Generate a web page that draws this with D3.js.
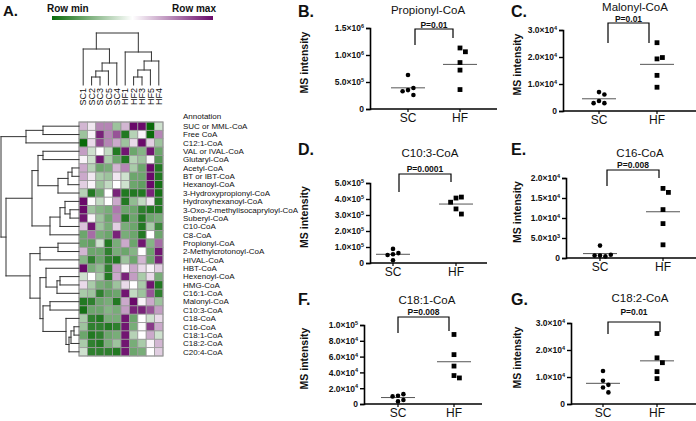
<!DOCTYPE html>
<html><head><meta charset="utf-8">
<script src="https://cdn.jsdelivr.net/npm/d3@7"></script>
<style>
body{margin:0;background:#fff}
svg{display:block}
text{font-family:Arial,"Liberation Sans",Helvetica,sans-serif;fill:#111}
</style>
</head><body>
<svg id="chart" width="696" height="421"></svg>
<script>
// ---------------- DATA ----------------
const colLabels = ["SC1","SC2","SC3","SC5","SC4","HF1","HF2","HF3","HF5","HF4"];
const rowLabels = ["SUC or MML-CoA","Free CoA","C12:1-CoA","VAL or IVAL-CoA","Glutaryl-CoA","Acetyl-CoA","BT or IBT-CoA","Hexanoyl-CoA","3-Hydroxypropionyl-CoA","Hydroxyhexanoyl-CoA","3-Oxo-2-methylisocapryloyl-CoA","Suberyl-CoA","C10-CoA","C8-CoA","Propionyl-CoA","2-Methylcrotonoyl-CoA","HIVAL-CoA","HBT-CoA","Hexenoyl-CoA","HMG-CoA","C16:1-CoA","Malonyl-CoA","C10:3-CoA","C18-CoA","C16-CoA","C18:1-CoA","C18:2-CoA","C20:4-CoA"];
const heatValues = [
 [0.3,0.1,0.5,0.5,-0.4,0.3,1,1,-1,-0.2],
 [-0.4,0.05,0.9,0.5,0.7,-0.9,-0.3,0.05,-1,0.5],
 [-1,0.15,0.75,0.5,0.35,-0.4,0.15,1,0.2,-0.4],
 [0.4,-0.2,0,-0.25,-0.9,0.95,-0.6,-0.5,0.95,-0.6],
 [0.05,-0.2,0.95,-0.35,-0.6,-0.9,-0.3,-0.4,0.05,-0.7],
 [0.35,-0.3,-0.6,-0.55,0.3,0.5,-0.35,-0.6,1,-0.9],
 [0.35,0.1,-0.35,-0.4,0.1,-0.2,-0.6,-0.6,1,-0.9],
 [0.2,0.05,-0.4,-0.25,0,-0.2,-0.6,-0.65,1,-0.95],
 [-0.3,-0.9,-0.6,0,0.9,-0.9,-0.9,-0.9,0.9,-0.95],
 [1,0.02,-0.25,0,0.35,-0.9,-0.45,-0.25,0.1,-0.9],
 [1,-0.4,-0.5,-0.55,0.55,-0.6,-0.6,-0.85,-0.9,-0.9],
 [0.95,0.05,-0.4,-0.6,0.5,-0.9,-0.6,-0.9,-0.6,-0.55],
 [0.25,0.95,-0.4,-0.55,0.2,-0.55,-0.6,-0.9,-0.35,-0.8],
 [-0.6,0.6,-0.55,-0.6,0.9,-0.55,-0.6,-0.9,0,-0.6],
 [-0.6,-0.65,-0.2,-0.9,-0.55,0.35,-0.6,0.95,-0.5,0.6],
 [0.3,-0.6,-0.6,-0.85,-0.55,-0.6,-0.5,0,-0.6,0.95],
 [-0.5,-0.85,-0.6,-0.85,-0.9,-0.4,-0.6,0.3,-0.6,0.9],
 [1,-0.55,-0.45,-0.85,0.4,0.05,0.35,0.15,0.05,0.2],
 [-0.2,0,-0.35,-0.9,0.35,0.9,0.4,-0.35,0.15,-0.55],
 [0.15,-0.35,-0.55,-0.6,-0.4,0.15,0,-0.35,0.95,-0.9],
 [-0.35,-0.4,-0.85,-0.65,-0.6,0.95,-0.25,-0.4,0.7,-0.85],
 [-0.9,-0.85,-0.6,-0.55,-0.9,0.35,1,0.05,0.35,-0.4],
 [-0.95,-0.6,-0.6,-0.5,-0.55,0.4,0.9,0.9,0.7,0.4],
 [-0.35,-0.85,-0.9,-0.55,-0.55,0.95,-0.6,0,-0.2,0.15],
 [-0.4,-0.85,-0.85,-0.9,-0.85,0.95,-0.55,0.02,0.8,0.35],
 [-0.6,-0.9,-0.85,-0.6,-0.55,0.95,-0.3,0,0.35,-0.2],
 [-0.35,-0.85,-0.9,-0.55,-0.4,0.95,-0.55,-0.35,0.05,0.3],
 [-0.2,-0.85,-0.85,-0.85,-0.9,0.95,-0.6,-0.55,0,0.2]
];
// dendrograms: merge heights (arbitrary distance units)
const colTree = {h:52,c:[
  {h:36,c:["SC1",{h:22,c:[{h:14,c:[{h:8,c:["SC2","SC3"]},"SC5"]},"SC4"]}]},
  {h:33,c:["HF1",{h:24,c:[{h:15,c:[{h:8,c:["HF2","HF3"]},"HF5"]},"HF4"]}]}
]};
const rowTree = {h:78,c:[
  {h:53,c:[{h:36,c:["SUC or MML-CoA","Free CoA"]},"C12:1-CoA"]},
  {h:73,c:[
    {h:47,c:[
      {h:41,c:[{h:36,c:["VAL or IVAL-CoA","Glutaryl-CoA"]},
               {h:21,c:[{h:11,c:[{h:7,c:["Acetyl-CoA","BT or IBT-CoA"]},"Hexanoyl-CoA"]},"3-Hydroxypropionyl-CoA"]}]},
      {h:29,c:[{h:19,c:[{h:14,c:["Hydroxyhexanoyl-CoA",{h:9,c:["3-Oxo-2-methylisocapryloyl-CoA","Suberyl-CoA"]}]},"C10-CoA"]},"C8-CoA"]}
    ]},
    {h:49,c:[
      {h:39,c:[{h:21,c:["Propionyl-CoA","2-Methylcrotonoyl-CoA"]},"HIVAL-CoA"]},
      {h:39,c:[
        {h:33,c:["HBT-CoA",{h:22,c:[{h:19,c:["Hexenoyl-CoA","HMG-CoA"]},"C16:1-CoA"]}]},
        {h:36,c:[{h:29,c:["Malonyl-CoA","C10:3-CoA"]},
                 {h:13,c:["C18-CoA",{h:10,c:[{h:8,c:[{h:5,c:["C16-CoA","C18:1-CoA"]},"C18:2-CoA"]},"C20:4-CoA"]}]}]}
      ]}
    ]}
  ]}
]};

const groups = ["SC","HF"];
const propionylSC = [6.3e5,3.5e5,3.9e5,3.3e5,2.6e5];
const propionylHF = [1.13e6,1.06e6,8.6e5,7.2e5,3.6e5];
const malonylSC = [7.0e3,6.1e3,3.7e3,2.9e3,2.9e3];
const malonylHF = [2.53e4,1.93e4,1.98e4,1.32e4,8.8e3];
const c103SC = [8.8e4,6.2e4,5.5e4,5.0e4,1.7e4];
const c103HF = [4.06e5,4.12e5,3.8e5,3.38e5,3.06e5];
const c16SC = [3.1e3,600,400,600,800];
const c16HF = [1.74e4,1.64e4,1.21e4,8.6e3,3.3e3];
const c181SC = [1.04e4,1.25e4,9.6e3,5.0e3,3.3e3];
const c181HF = [8.8e4,6.25e4,4.8e4,3.6e4,3.3e4];
const c182SC = [1.22e4,8.6e3,7.1e3,6.1e3,4.3e3];
const c182HF = [2.61e4,1.71e4,1.53e4,1.2e4,9.4e3];
const propionylTicks = [0,5e5,1e6,1.5e6];
const malonylTicks = [0,1e4,2e4,3e4];
const c103Ticks = [0,1e5,2e5,3e5,4e5,5e5];
const c16Ticks = [0,5e3,1e4,1.5e4,2e4];
const c181Ticks = [0,2e4,4e4,6e4,8e4,1e5];
const c182Ticks = [0,1e4,2e4,3e4];
const panelTitles = ["Propionyl-CoA","Malonyl-CoA","C10:3-CoA","C16-CoA","C18:1-CoA","C18:2-CoA"];
const panelLetters = ["B.","C.","D.","E.","F.","G."];
const pLabels = ["P=0.01","P=0.01","P=0.0001","P=0.008","P=0.008","P=0.01"];

// ---------------- LAYOUT ----------------
const svg = d3.select("#chart");
const HM = {x0:79,x1:163,y0:122,y1:356};
const color = d3.scaleLinear().domain([-1,0,1]).range(["#0a6a0a","#ffffff","#6a0a6a"]);

svg.append("text").attr("x",3).attr("y",16).attr("font-size",15).attr("font-weight","bold").text("A.");

// legend gradient
const defs = svg.append("defs");
const grad = defs.append("linearGradient").attr("id","rowgrad");
[-1,-0.5,0,0.5,1].forEach(v=>grad.append("stop").attr("offset",((v+1)/2*100)+"%").attr("stop-color",color(v)));
svg.append("rect").attr("x",52).attr("y",16).attr("width",161).attr("height",4).attr("fill","url(#rowgrad)");
svg.append("text").attr("x",47).attr("y",12).attr("font-size",10).attr("font-weight","bold").text("Row min");
svg.append("text").attr("x",216).attr("y",12).attr("font-size",10).attr("font-weight","bold").attr("text-anchor","end").text("Row max");

// heatmap
const xCol = d3.scaleBand().domain(colLabels).range([HM.x0,HM.x1]);
const yRow = d3.scaleBand().domain(rowLabels).range([HM.y0,HM.y1]);
const cells = [];
heatValues.forEach((r,i)=>r.forEach((v,j)=>cells.push({row:rowLabels[i],col:colLabels[j],v})));
svg.append("g").selectAll("rect").data(cells).join("rect")
  .attr("x",d=>xCol(d.col)).attr("y",d=>yRow(d.row))
  .attr("width",xCol.bandwidth()).attr("height",yRow.bandwidth())
  .attr("fill",d=>color(d.v)).attr("stroke","#9a9a9a").attr("stroke-width",0.8);
svg.append("rect").attr("x",HM.x0).attr("y",HM.y0).attr("width",HM.x1-HM.x0).attr("height",HM.y1-HM.y0)
  .attr("fill","none").attr("stroke","#999").attr("stroke-width",1);

// row labels
svg.append("g").selectAll("text").data(rowLabels).join("text")
  .attr("x",183).attr("y",d=>yRow(d)+yRow.bandwidth()/2).attr("dy","0.35em")
  .attr("font-size",8).text(d=>d);
svg.append("text").attr("x",183).attr("y",119).attr("font-size",8).text("Annotation");

// column labels
svg.append("g").selectAll("text").data(colLabels).join("text")
  .attr("transform",d=>`translate(${xCol(d)+xCol.bandwidth()/2},88) rotate(-90)`)
  .attr("dy","0.35em").attr("text-anchor","end").attr("font-size",9).text(d=>d);

// dendrogram helper
function drawTree(tree, posScale, hScale, orient){
  const root = d3.hierarchy(tree, d=> (typeof d==="string")?null:d.c);
  root.eachAfter(n=>{
    if(!n.children){ n.pos = posScale(n.data)+posScale.bandwidth()/2; n.hh = 0; }
    else { n.pos = d3.mean([n.children[0].pos, n.children[n.children.length-1].pos]); n.hh = n.data.h; }
  });
  const segs = [];
  root.each(n=>{
    if(n.children){
      const ps = n.children.map(c=>c.pos);
      segs.push([hScale(n.hh), d3.min(ps), hScale(n.hh), d3.max(ps)]);
      n.children.forEach(c=>segs.push([hScale(c.hh), c.pos, hScale(n.hh), c.pos]));
    }
  });
  const g = svg.append("g");
  g.selectAll("line").data(segs).join("line")
    .attr(orient==="row"?"x1":"y1",d=>d[0]).attr(orient==="row"?"y1":"x1",d=>d[1])
    .attr(orient==="row"?"x2":"y2",d=>d[2]).attr(orient==="row"?"y2":"x2",d=>d[3])
    .attr("stroke","#333").attr("stroke-width",1).attr("stroke-linecap","square");
}
drawTree(colTree, xCol, d3.scaleLinear().domain([0,52]).range([85,33]), "col");
drawTree(rowTree, yRow, d3.scaleLinear().domain([0,78]).range([HM.x0,1]), "row");

// ---------------- SCATTER PANELS ----------------
const panelLayout = [
  {lx:298,ly:17,x0:370,x1:497,yTop:28,yBot:109,sc:408,hf:460,tx:428,tY:14,bl:415,br:453,pY:27.5,brT:29,brL:45,brR:38},
  {lx:511,ly:17,x0:563,x1:696,yTop:30,yBot:111,sc:599,hf:657,tx:635,tY:11,bl:608,br:649,pY:21.5,brT:23,brL:43,brR:43},
  {lx:298,ly:155,x0:370,x1:487,yTop:183,yBot:263,sc:393,hf:456,tx:430,tY:157,bl:399,br:451,pY:172,brT:174,brL:192,brR:182},
  {lx:511,ly:155,x0:566,x1:696,yTop:178,yBot:258,sc:600,hf:663,tx:640,tY:157,bl:607,br:659,pY:167.5,brT:170,brL:186,brR:178},
  {lx:298,ly:305,x0:364,x1:482,yTop:325,yBot:404,sc:398,hf:454,tx:427,tY:304,bl:398,br:449,pY:315,brT:317,brL:333,brR:331},
  {lx:511,ly:305,x0:571,x1:696,yTop:323,yBot:404,sc:603,hf:657,tx:640,tY:302,bl:608,br:660,pY:315,brT:322,brL:334,brR:332}
];
const panelSC = [propionylSC,malonylSC,c103SC,c16SC,c181SC,c182SC];
const panelHF = [propionylHF,malonylHF,c103HF,c16HF,c181HF,c182HF];
const panelTicks = [propionylTicks,malonylTicks,c103Ticks,c16Ticks,c181Ticks,c182Ticks];

function sciLabel(sel, v){
  if(v===0){ sel.text("0"); return; }
  const e = Math.floor(Math.log10(v)+1e-9);
  const m = v/Math.pow(10,e);
  sel.append("tspan").text(m.toFixed(1)+"\u00d710");
  sel.append("tspan").attr("dy",-3.5).attr("font-size",5.5).text(e);
}

panelLayout.forEach((L,i)=>{
  const g = svg.append("g");
  const ticks = panelTicks[i];
  const y = d3.scaleLinear().domain([0,d3.max(ticks)]).range([L.yBot,L.yTop]);
  const x = d3.scalePoint().domain(groups).range([L.sc,L.hf]);
  // letter & title
  g.append("text").attr("x",L.lx).attr("y",L.ly).attr("font-size",16).attr("font-weight","bold").text(panelLetters[i]);
  g.append("text").attr("x",L.tx).attr("y",L.tY).attr("text-anchor","middle").attr("font-size",11.5).text(panelTitles[i]);
  // y axis
  const ya = d3.axisLeft(y).tickValues(ticks).tickSize(4).tickFormat(()=> "");
  const yg = g.append("g").attr("transform",`translate(${L.x0},0)`).call(ya);
  yg.select(".domain").attr("stroke","#000").attr("stroke-width",1.6);
  yg.selectAll(".tick line").attr("stroke","#000").attr("stroke-width",1.4);
  yg.selectAll(".tick text").remove();
  yg.selectAll(".tick").append("text").attr("x",-6).attr("dy","0.35em").attr("text-anchor","end")
    .attr("font-size",8.5).attr("font-weight","bold").attr("fill","#111").style("font-family","Arial")
    .each(function(d){ sciLabel(d3.select(this), d); });
  // x axis
  g.append("line").attr("x1",L.x0).attr("x2",L.x1).attr("y1",L.yBot).attr("y2",L.yBot).attr("stroke","#000").attr("stroke-width",1.6);
  groups.forEach(gr=>{
    g.append("line").attr("x1",x(gr)).attr("x2",x(gr)).attr("y1",L.yBot).attr("y2",L.yBot+3).attr("stroke","#000").attr("stroke-width",1.2);
    g.append("text").attr("x",x(gr)).attr("y",L.yBot+13).attr("text-anchor","middle").attr("font-size",12).text(gr);
  });
  // y title
  const midY = (L.yTop+L.yBot)/2 - 6;
  g.append("text").attr("transform",`translate(${L.lx+10},${midY}) rotate(-90)`).attr("text-anchor","middle")
    .attr("font-size",10.5).attr("font-weight","bold").text("MS intensity");
  // bracket
  g.append("path").attr("d",`M${L.bl},${L.brL}V${L.brT}H${L.br}V${L.brR}`).attr("fill","none").attr("stroke","#000").attr("stroke-width",1.2);
  g.append("text").attr("x",(L.bl+L.br)/2).attr("y",L.pY).attr("text-anchor","middle").attr("font-size",8.5).attr("font-weight","bold").text(pLabels[i]);
  // points with simple deterministic swarm
  [["SC",panelSC[i]],["HF",panelHF[i]]].forEach(([gr,vals])=>{
    const placed = [];
    const pts = vals.map(v=>{
      const py = y(v); let off = 0, k = 0;
      const collides = o => placed.some(p=>Math.hypot(p.x-o, p.y-py) < 5.2);
      while(collides(off)){ k++; off = (k%2?1:-1)*Math.ceil(k/2)*5.4; }
      const p = {x:off,y:py}; placed.push(p); return p;
    });
    const mean = d3.mean(vals);
    g.append("line").attr("x1",x(gr)-17).attr("x2",x(gr)+17).attr("y1",y(mean)).attr("y2",y(mean)).attr("stroke","#555").attr("stroke-width",1);
    if(gr==="SC"){
      g.selectAll(null).data(pts).join("circle").attr("cx",d=>x(gr)+d.x).attr("cy",d=>d.y).attr("r",2.3).attr("fill","#000");
    } else {
      g.selectAll(null).data(pts).join("rect").attr("x",d=>x(gr)+d.x-2.4).attr("y",d=>d.y-2.4).attr("width",4.8).attr("height",4.8).attr("fill","#000");
    }
  });
});
</script>
</body></html>
